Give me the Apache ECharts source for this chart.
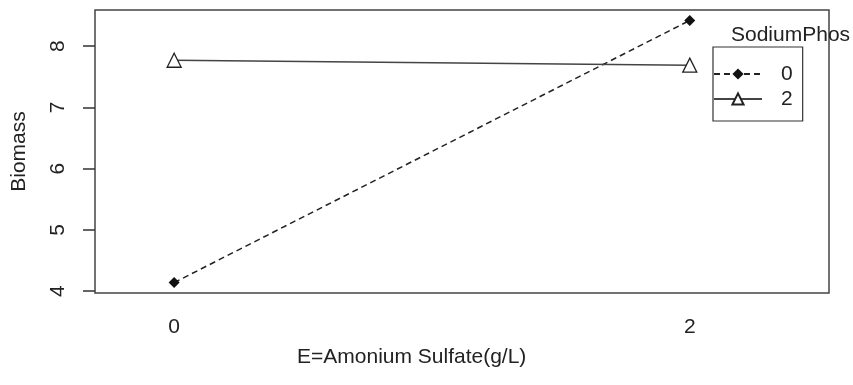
<!DOCTYPE html>
<html><head><meta charset="utf-8">
<script src="https://cdn.jsdelivr.net/npm/echarts@6/dist/echarts.min.js"></script>
<style>html,body{margin:0;padding:0;background:#fff}#c{width:853px;height:385px}</style>
</head><body><div id="c"></div>
<script>
const xValues = [0, 2];
const xTickLabels = [0, 2];
const yTickValues = [4, 5, 6, 7, 8];
const seriesNames = ['0', '2'];
const biomassPhos0 = [4.14, 8.42];
const biomassPhos2 = [7.77, 7.69];
const xTitle = 'E=Amonium Sulfate(g/L)';
const yTitle = 'Biomass';
const legendTitle = 'SodiumPhos';

const font = 'Liberation Sans, Arial, sans-serif';
const chart = echarts.init(document.getElementById('c'));
const pairs = (ys) => xValues.map((x, i) => [x, ys[i]]);
chart.setOption({
  animation: false,
  backgroundColor: '#fff',
  grid: {left: 95, right: 24, top: 10, bottom: 92, show: true, borderColor: '#444', borderWidth: 1.5, backgroundColor: 'transparent'},
  xAxis: {
    type: 'value', min: -0.307, max: 2.54,
    axisLine: {show: false, onZero: false}, splitLine: {show: false},
    axisTick: {show: false},
    axisLabel: {customValues: xTickLabels, margin: 24, fontSize: 21, color: '#222', fontFamily: font}
  },
  yAxis: {
    type: 'value', min: 3.97, max: 8.59,
    name: yTitle, nameLocation: 'middle', nameGap: 65,
    nameTextStyle: {fontSize: 21, color: '#222', fontFamily: font},
    axisLine: {show: false, onZero: false}, splitLine: {show: false},
    axisTick: {show: true, customValues: yTickValues, length: 12, inside: false, lineStyle: {color: '#333', width: 1.5}},
    axisLabel: {customValues: yTickValues, rotate: 90, margin: 26, fontSize: 21, color: '#222', fontFamily: font}
  },
  legend: {
    left: 713, top: 47, orient: 'vertical',
    borderColor: '#333', borderWidth: 1.2,
    padding: [16, 10, 11, 0],
    itemWidth: 48, itemHeight: 14, itemGap: 3,
    textStyle: {fontSize: 21, color: '#222', fontFamily: font, lineHeight: 22, padding: [0, 0, 0, 14]},
    data: seriesNames
  },
  graphic: [
    {type: 'text', left: 731, top: 25, style: {text: legendTitle, fontSize: 21, fill: '#222', fontFamily: font}},
    {type: 'text', left: 297, top: 347, style: {text: xTitle, fontSize: 21, fill: '#222', fontFamily: font}}
  ],
  series: [
    {name: seriesNames[0], type: 'line', data: pairs(biomassPhos0),
     symbol: 'diamond', symbolSize: 11,
     lineStyle: {color: '#222', width: 1.5, type: [6, 4]},
     itemStyle: {color: '#111'}},
    {name: seriesNames[1], type: 'line', data: pairs(biomassPhos2),
     symbol: 'triangle', symbolSize: 14,
     lineStyle: {color: '#444', width: 1.5},
     itemStyle: {color: '#fff', borderColor: '#222', borderWidth: 1.3}}
  ]
});
</script></body></html>
